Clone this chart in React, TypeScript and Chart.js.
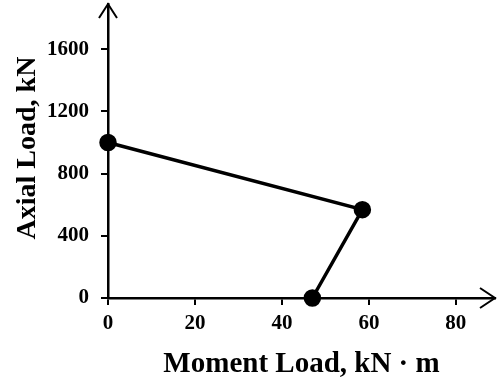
import React, { useEffect, useRef } from "react";
import { Chart, registerables } from "chart.js";

Chart.register(...registerables);

const momentValues = [0, 58.5, 47];
const axialValues = [1000, 568, 0];
const xTickValues = [0, 20, 40, 60, 80];
const yTickValues = [0, 400, 800, 1200, 1600];
const xTitle = "Moment Load, kN\u00B7m";
const yTitle = "Axial Load, kN";

const FONT = '"Liberation Serif", "Times New Roman", serif';

const axesPlugin = {
  id: "axesDecor",
  afterDraw(chart: any) {
    const { ctx, chartArea } = chart;
    const { left, right, top, bottom } = chartArea;
    ctx.save();
    ctx.strokeStyle = "#000";
    ctx.lineWidth = 2;
    ctx.lineCap = "butt";
    ctx.lineJoin = "miter";
    // right arrow
    ctx.beginPath();
    ctx.moveTo(right - 15, bottom - 10);
    ctx.lineTo(right, bottom);
    ctx.lineTo(right - 15, bottom + 10);
    ctx.stroke();
    // top arrow
    ctx.beginPath();
    ctx.moveTo(left - 9, top + 14);
    ctx.lineTo(left, top);
    ctx.lineTo(left + 9, top + 14);
    ctx.stroke();
    // titles
    ctx.fillStyle = "#000";
    ctx.font = `bold 29px ${FONT}`;
    ctx.textAlign = "center";
    ctx.textBaseline = "alphabetic";
    ctx.fillText(xTitle.replace("\u00B7", " \u00B7 "), (left + right) / 2, 372);
    ctx.save();
    ctx.translate(35, (top + bottom) / 2 - 3);
    ctx.rotate(-Math.PI / 2);
    ctx.font = `bold 28px ${FONT}`;
    ctx.fillText(yTitle, 0, 0);
    ctx.restore();
    ctx.restore();
  },
};

export default function App() {
  const ref = useRef<HTMLCanvasElement>(null);
  useEffect(() => {
    document.body.style.margin = "0";
    const canvas = ref.current!;
    const points = momentValues.map((x, i) => ({ x, y: axialValues[i] }));
    const chart = new Chart(canvas, {
      type: "scatter",
      data: {
        datasets: [
          {
            data: points,
            showLine: true,
            borderColor: "#000",
            backgroundColor: "#000",
            borderWidth: 3.5,
            pointRadius: 7,
            pointBackgroundColor: "#000",
            pointBorderColor: "#000",
            clip: false as any,
          },
        ],
      },
      options: {
        animation: false,
        responsive: false,
        layout: { autoPadding: false, padding: { top: 4, right: 5, left: 0, bottom: 0 } },
        plugins: { legend: { display: false }, tooltip: { enabled: false } },
        scales: {
          x: {
            type: "linear",
            min: 0,
            max: 89,
            afterBuildTicks: (scale: any) => {
              scale.ticks = xTickValues.map((v) => ({ value: v }));
            },
            afterFit: (scale: any) => {
              scale.height = 80;
              scale.paddingLeft = 0;
              scale.paddingRight = 0;
            },
            grid: {
              drawOnChartArea: false,
              drawTicks: true,
              tickLength: 7,
              tickColor: "#000",
              lineWidth: 2,
            },
            border: { display: true, color: "#000", width: 2.5 },
            ticks: {
              color: "#000",
              padding: 6,
              callback: (v: any) => String(v),
              font: { family: FONT, size: 21, weight: "bold" },
            },
          },
          y: {
            type: "linear",
            min: 0,
            max: 1890,
            afterBuildTicks: (scale: any) => {
              scale.ticks = yTickValues.map((v) => ({ value: v }));
            },
            afterFit: (scale: any) => {
              scale.width = 108;
              scale.paddingTop = 0;
              scale.paddingBottom = 0;
            },
            grid: {
              drawOnChartArea: false,
              drawTicks: true,
              tickLength: 7,
              tickColor: "#000",
              lineWidth: 2,
            },
            border: { display: true, color: "#000", width: 2.5 },
            ticks: {
              color: "#000",
              padding: 12,
              callback: (v: any) => String(v),
              font: { family: FONT, size: 21, weight: "bold" },
            },
          },
        },
      },
      plugins: [axesPlugin],
    });
    return () => chart.destroy();
  }, []);
  return (
    <div style={{ width: 500, height: 378, background: "#fff" }}>
      <canvas ref={ref} width={500} height={378} />
    </div>
  );
}
